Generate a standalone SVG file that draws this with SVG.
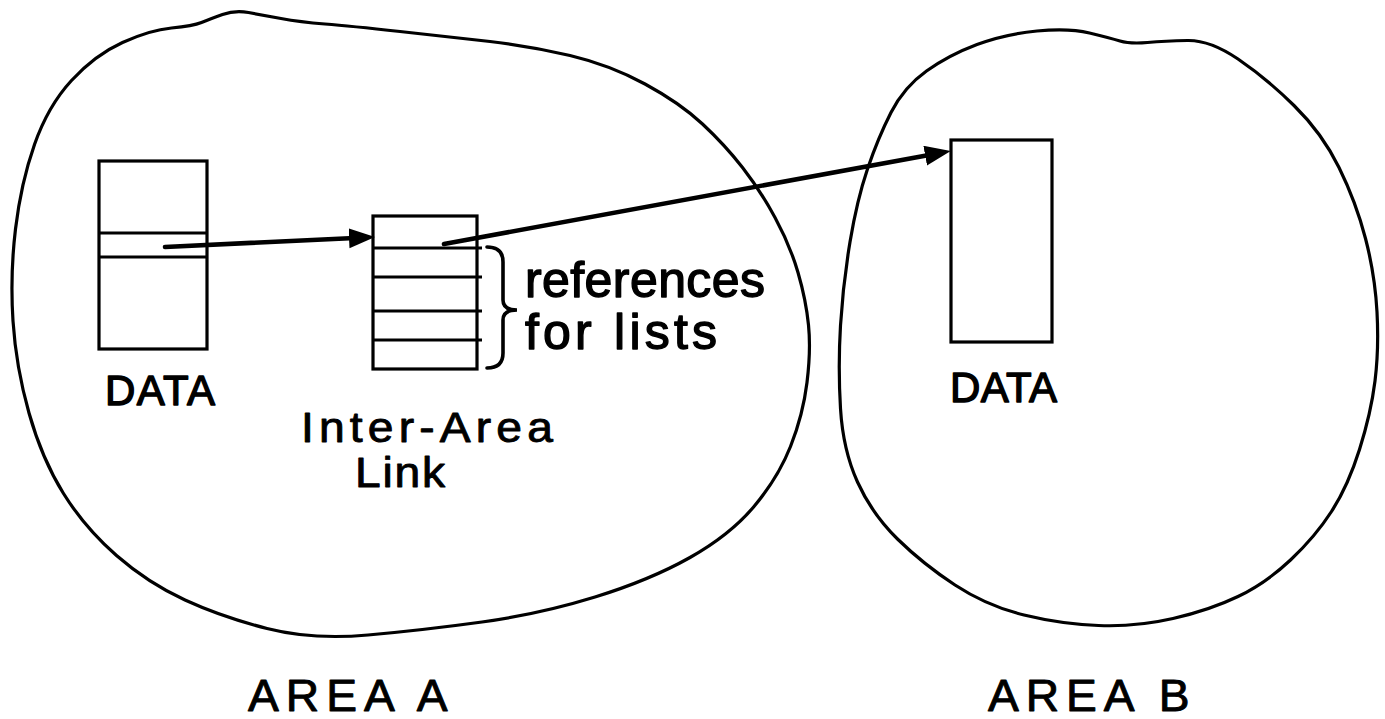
<svg xmlns="http://www.w3.org/2000/svg" width="1385" height="719" viewBox="0 0 1385 719">
  <style>
    .area { fill: none; stroke: #000; stroke-width: 3.2; stroke-linejoin: round; }
    .cell { fill: #fff; stroke: #000; stroke-width: 3.2; }
    .rule { stroke: #000; stroke-width: 3; }
    .lbl { font-family: "Liberation Sans", Arial, sans-serif; fill: #000; stroke: #000; stroke-width: 1.4; stroke-linejoin: round; }
    .lbl.thin { stroke-width: 0.9; }
    .link { fill: none; stroke: #000; stroke-width: 4.6; stroke-linecap: round; }
  </style>
  <defs>
    <marker id="head" markerUnits="userSpaceOnUse" markerWidth="30" markerHeight="22" refX="11" refY="10" orient="auto">
      <path d="M0,0 L26,10 L0,20 Z" fill="#000"/>
    </marker>
  </defs>
  <rect width="1385" height="719" fill="#fff"/>

  <!-- area outlines -->
  <g id="area-a">
    <path class="area" d="M222.5,14.5 Q235,10 248.5,12.5 Q262,15 281,18.5 Q300,22 325,24 Q350,26 400,31.5 Q450,37 490,41.5 Q530,46 570,55.5 Q610,65 645,84 Q680,103 702.5,124 Q725,145 742.5,167.5 Q760,190 775,217.5 Q790,245 798,272.5 Q806,300 808.5,325 Q811,350 807,382.5 Q803,415 790.5,446.5 Q778,478 754,506.5 Q730,535 690,557.5 Q650,580 595,597 Q540,614 482,622 Q424,630 368,635 Q312,640 267,628.5 Q222,617 185,600 Q148,583 116.5,555.5 Q85,528 63.5,493.5 Q42,459 29,413 Q16,367 13,321 Q10,275 15.5,229 Q21,183 34.5,144.5 Q48,106 71.5,80.5 Q95,55 122.5,42.5 Q150,30 171.5,28 Q193,26 201.5,22.5 Q210,19 222.5,14.5 Z"/>
    <text class="lbl thin" transform="translate(248,711) scale(1.05,1)" font-size="44" textLength="190" lengthAdjust="spacing">AREA A</text>
  </g>
  <g id="area-b">
    <path class="area" d="M977,44.5 Q1005,34 1037,31 Q1069,28 1089.5,33 Q1110,38 1120,41 Q1130,44 1147.5,42.5 Q1165,41 1187.5,40.5 Q1210,40 1238,59 Q1266,78 1294,105.5 Q1322,133 1339,167.5 Q1356,202 1365.5,238.5 Q1375,275 1377,312 Q1379,349 1375,381 Q1371,413 1359.5,449.5 Q1348,486 1331.5,511.5 Q1315,537 1290.5,560 Q1266,583 1238,596.5 Q1210,610 1173,618.5 Q1136,627 1098.5,625.5 Q1061,624 1024,615 Q987,606 955,585 Q923,564 897.5,539 Q872,514 857.5,482 Q843,450 840.5,408.5 Q838,367 840.5,325.5 Q843,284 850,242 Q857,200 867.5,169 Q878,138 891,112.5 Q904,87 926.5,71 Q949,55 977,44.5 Z"/>
    <text class="lbl thin" transform="translate(988,711) scale(1.05,1)" font-size="44" textLength="192" lengthAdjust="spacing">AREA B</text>
  </g>

  <!-- record in area A -->
  <g id="data-a">
    <rect class="cell" x="99" y="161" width="108" height="188"/>
    <line class="rule" x1="99" y1="233" x2="207" y2="233"/>
    <line class="rule" x1="99" y1="257" x2="207" y2="257"/>
    <text class="lbl" x="105" y="405" font-size="42" textLength="110" lengthAdjust="spacing">DATA</text>
  </g>

  <!-- inter-area link table -->
  <g id="inter-area-link">
    <rect class="cell" x="373" y="216" width="104" height="153"/>
    <line class="rule" x1="373" y1="248" x2="482" y2="248"/>
    <line class="rule" x1="373" y1="277" x2="482" y2="277"/>
    <line class="rule" x1="373" y1="311" x2="482" y2="311"/>
    <line class="rule" x1="373" y1="340" x2="482" y2="340"/>
    <text class="lbl thin" transform="translate(301,442) scale(1.1,1)" font-size="42" textLength="229" lengthAdjust="spacing">Inter-Area</text>
    <text class="lbl thin" transform="translate(355,487) scale(1.1,1)" font-size="42" textLength="82" lengthAdjust="spacing">Link</text>
  </g>

  <!-- brace and note -->
  <g id="list-refs">
    <path fill="none" stroke="#000" stroke-width="3.6" stroke-linecap="round" d="M487,247 Q503,247 503,262 L503,300 Q503,310 517,310 Q503,310 503,320 L503,353 Q503,368 487,368"/>
    <text class="lbl" x="525" y="297" font-size="50" textLength="240" lengthAdjust="spacing">references</text>
    <text class="lbl" x="525" y="349" font-size="50" textLength="192" lengthAdjust="spacing">for lists</text>
  </g>

  <!-- record in area B -->
  <g id="data-b">
    <rect class="cell" x="951" y="140" width="101" height="202"/>
    <text class="lbl" x="950" y="402" font-size="42" textLength="107" lengthAdjust="spacing">DATA</text>
  </g>

  <!-- pointers -->
  <g id="connectors">
    <line class="link" x1="165" y1="247" x2="360" y2="237.7" marker-end="url(#head)"/>
    <line class="link" x1="444" y1="244" x2="936" y2="153.7" marker-end="url(#head)"/>
  </g>
</svg>
